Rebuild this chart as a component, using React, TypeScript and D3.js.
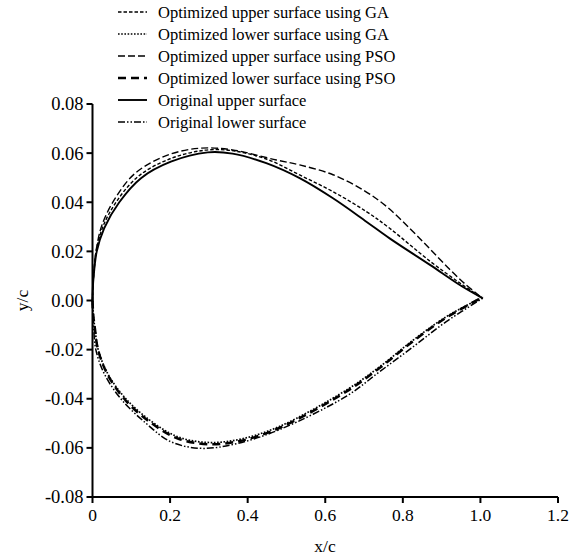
import React from "react";
import * as d3 from "d3";

// ---- data (x/c, y/c) ----
const origUpperX = [0, 0.001, 0.0026, 0.011, 0.03, 0.069, 0.125, 0.202, 0.297, 0.361, 0.448, 0.534, 0.62, 0.706, 0.766, 0.87, 0.95, 1.005];
const origUpperY = [0, 0.0055, 0.0092, 0.02, 0.0294, 0.04, 0.0498, 0.0565, 0.0603, 0.0598, 0.0559, 0.0498, 0.0416, 0.0321, 0.0253, 0.0145, 0.006, 0.001];

const gaUpperX = [0, 0.001, 0.004, 0.01, 0.028, 0.065, 0.12, 0.2, 0.29, 0.36, 0.45, 0.534, 0.62, 0.706, 0.766, 0.87, 0.95, 1.005];
const gaUpperY = [0, 0.0058, 0.012, 0.0205, 0.0305, 0.041, 0.0508, 0.0577, 0.0612, 0.061, 0.0575, 0.0511, 0.0443, 0.0362, 0.0294, 0.016, 0.0068, 0.001];

const psoUpperX = [0, 0.001, 0.004, 0.01, 0.025, 0.06, 0.11, 0.19, 0.276, 0.361, 0.474, 0.534, 0.62, 0.7, 0.76, 0.82, 0.87, 0.92, 0.96, 1.005];
const psoUpperY = [0, 0.006, 0.0125, 0.021, 0.031, 0.042, 0.0518, 0.059, 0.062, 0.0613, 0.0572, 0.0552, 0.0512, 0.0448, 0.038, 0.029, 0.021, 0.0128, 0.0068, 0.001];

const origLowerX = [0, 0.001, 0.003, 0.0086, 0.03, 0.073, 0.138, 0.202, 0.28, 0.374, 0.483, 0.655, 0.74, 0.827, 0.912, 1.007];
const origLowerY = [0, -0.006, -0.011, -0.02, -0.0297, -0.04, -0.05, -0.0575, -0.0602, -0.0582, -0.0525, -0.0389, -0.029, -0.0188, -0.0086, 0.001];

const gaLowerX = [0, 0.002, 0.006, 0.0147, 0.04, 0.086, 0.15, 0.22, 0.297, 0.38, 0.483, 0.655, 0.74, 0.827, 0.912, 1.007];
const gaLowerY = [0, -0.006, -0.011, -0.02, -0.03, -0.04, -0.049, -0.0555, -0.0578, -0.0565, -0.0512, -0.0364, -0.027, -0.0161, -0.0066, 0.0015];

const psoLowerX = [0, 0.002, 0.006, 0.0147, 0.04, 0.086, 0.15, 0.22, 0.297, 0.38, 0.483, 0.655, 0.74, 0.827, 0.912, 1.007];
const psoLowerY = [0, -0.006, -0.0112, -0.0203, -0.0305, -0.0408, -0.0497, -0.0562, -0.0585, -0.0572, -0.0518, -0.037, -0.0275, -0.0165, -0.007, 0.0015];

const xTicks = [0, 0.2, 0.4, 0.6, 0.8, 1.0, 1.2];
const xTickLabels = ["0", "0.2", "0.4", "0.6", "0.8", "1.0", "1.2"];
const yTicks = [0.08, 0.06, 0.04, 0.02, 0, -0.02, -0.04, -0.06, -0.08];
const yTickLabels = ["0.08", "0.06", "0.04", "0.02", "0.00", "-0.02", "-0.04", "-0.06", "-0.08"];

const legendLabels = [
  "Optimized upper surface using GA",
  "Optimized lower surface using GA",
  "Optimized upper surface using PSO",
  "Optimized lower surface using PSO",
  "Original upper surface",
  "Original lower surface",
];

const FONT = "'Liberation Serif', 'Times New Roman', serif";

export default function App() {
  const W = 578, H = 556;
  const x = d3.scaleLinear().domain([0, 1.2]).range([92.5, 558]);
  const y = d3.scaleLinear().domain([-0.08, 0.08]).range([497, 104]);

  const mk = (xs: number[], ys: number[]) =>
    d3.line<number>()
      .x((_, i) => x(xs[i]))
      .y((_, i) => y(ys[i]))
      .curve(d3.curveCatmullRom.alpha(0.5))(xs) as string;

  const styles = [
    { d: mk(gaUpperX, gaUpperY), dash: "3.5,2", w: 1.4 },
    { d: mk(gaLowerX, gaLowerY), dash: "1.6,1.6", w: 1.7 },
    { d: mk(psoUpperX, psoUpperY), dash: "7,3", w: 1.4 },
    { d: mk(psoLowerX, psoLowerY), dash: "8,5", w: 2.5 },
    { d: mk(origUpperX, origUpperY), dash: "none", w: 1.9 },
    { d: mk(origLowerX, origLowerY), dash: "7,2,1.5,2,1.5,2", w: 1.5 },
  ];

  return (
    <svg width={W} height={H} style={{ position: "absolute", left: 0, top: 0, background: "#fff" }}>
      <rect width={W} height={H} fill="#fff" />
      {styles.map((s, i) => (
        <path key={i} d={s.d} fill="none" stroke="#000" strokeWidth={s.w}
          strokeDasharray={s.dash} strokeLinejoin="round" />
      ))}
      {/* y axis */}
      <line x1={x(0)} x2={x(0)} y1={y(0.08)} y2={y(-0.08)} stroke="#000" strokeWidth={2} />
      {yTicks.map((t, i) => (
        <g key={"yt" + i}>
          <line x1={x(0) - 6} x2={x(0)} y1={y(t)} y2={y(t)} stroke="#000" strokeWidth={2} />
          <text x={x(0) - 9} y={y(t)} dy="0.35em" textAnchor="end" fontFamily={FONT} fontSize={18.5}>
            {yTickLabels[i]}
          </text>
        </g>
      ))}
      {/* x axis */}
      <line x1={x(0) - 1} x2={x(1.2)} y1={y(-0.08)} y2={y(-0.08)} stroke="#000" strokeWidth={2} />
      {xTicks.map((t, i) => (
        <g key={"xt" + i}>
          <line x1={x(t)} x2={x(t)} y1={y(-0.08)} y2={y(-0.08) + 6} stroke="#000" strokeWidth={2} />
          <text x={x(t)} y={521} textAnchor="middle" fontFamily={FONT} fontSize={17.5}>
            {xTickLabels[i]}
          </text>
        </g>
      ))}
      <text x={325} y={552} textAnchor="middle" fontFamily={FONT} fontSize={17.5}>x/c</text>
      <text transform={`translate(28,${y(0)}) rotate(-90)`} textAnchor="middle" fontFamily={FONT} fontSize={17.5}>y/c</text>
      {/* legend */}
      {legendLabels.map((lab, i) => {
        const ly = 12 + i * 22;
        const s = styles[i];
        return (
          <g key={"lg" + i}>
            <line x1={118} x2={147} y1={ly} y2={ly} stroke="#000" strokeWidth={s.w}
              strokeDasharray={s.dash} />
            <text x={158} y={ly} dy="0.35em" fontFamily={FONT} fontSize={16.5}>{lab}</text>
          </g>
        );
      })}
    </svg>
  );
}
